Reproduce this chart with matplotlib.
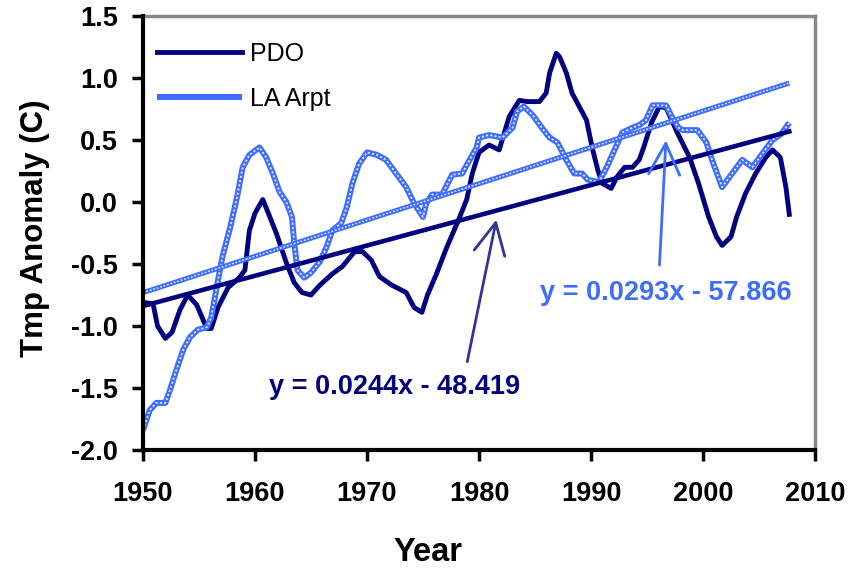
import numpy as np
import matplotlib.pyplot as plt

plt.rcParams['font.family'] = ['Liberation Sans', 'DejaVu Sans']

# PDO index (smoothed)
pdo_years = [1950.0, 1950.9, 1951.3, 1952.0, 1952.6, 1953.3, 1954.0, 1954.8, 1955.7, 1956.1,
             1956.7, 1957.6, 1958.6, 1959.1, 1959.5, 1960.0, 1960.7, 1961.1, 1961.9, 1962.8,
             1963.5, 1964.2, 1965.0, 1965.8, 1966.9, 1967.8, 1968.9, 1969.6, 1970.4, 1971.1,
             1972.2, 1973.5, 1974.2, 1974.9, 1975.4, 1976.2, 1977.1, 1978.1, 1978.9, 1979.4,
             1980.0, 1980.9, 1981.8, 1982.7, 1983.6, 1984.3, 1985.4, 1986.0, 1986.3, 1986.9,
             1987.2, 1987.8, 1988.3, 1989.6, 1990.1, 1990.6, 1991.0, 1991.8, 1992.3, 1993.0,
             1993.7, 1994.3, 1994.7, 1995.4, 1996.1, 1996.7, 1997.7, 1998.8, 1999.6, 2000.5,
             2001.2, 2001.7, 2002.5, 2003.0, 2003.8, 2004.7, 2005.6, 2006.2, 2006.9, 2007.4,
             2007.7]
pdo_vals = [-0.81, -0.82, -1.00, -1.10, -1.05, -0.87, -0.75, -0.83, -1.02, -1.02,
            -0.85, -0.69, -0.61, -0.55, -0.23, -0.09, 0.02, -0.07, -0.25, -0.49,
            -0.65, -0.73, -0.75, -0.67, -0.58, -0.52, -0.40, -0.40, -0.47, -0.60,
            -0.67, -0.73, -0.85, -0.89, -0.75, -0.58, -0.37, -0.16, 0.02, 0.23,
            0.40, 0.46, 0.42, 0.69, 0.82, 0.81, 0.81, 0.88, 1.04, 1.20,
            1.17, 1.04, 0.88, 0.66, 0.44, 0.26, 0.15, 0.11, 0.20, 0.28,
            0.28, 0.34, 0.44, 0.64, 0.77, 0.76, 0.56, 0.36, 0.15, -0.12,
            -0.28, -0.35, -0.28, -0.12, 0.07, 0.23, 0.36, 0.42, 0.36, 0.12,
            -0.10]

# LA airport temperature anomaly (smoothed)
la_years = [1950.0, 1950.6, 1951.2, 1952.0, 1952.4, 1953.0, 1953.6, 1954.2, 1954.9, 1955.7,
            1956.1, 1956.7, 1957.1, 1957.8, 1958.4, 1958.9, 1959.5, 1960.4, 1961.0, 1961.6,
            1962.2, 1962.8, 1963.3, 1963.5, 1963.8, 1964.4, 1965.0, 1965.8, 1966.4, 1966.9,
            1967.7, 1968.2, 1968.7, 1969.3, 1970.0, 1970.9, 1971.7, 1972.6, 1973.5, 1974.2,
            1975.0, 1975.3, 1975.8, 1976.7, 1977.6, 1978.5, 1979.1, 1979.8, 1980.0, 1980.9,
            1982.1, 1983.0, 1983.4, 1984.0, 1984.8, 1985.6, 1986.3, 1987.0, 1987.8, 1988.5,
            1989.2, 1989.7, 1990.7, 1991.4, 1992.2, 1992.8, 1993.7, 1994.3, 1994.9, 1995.5,
            1996.7, 1997.2, 1997.8, 1998.2, 1999.5, 2000.3, 2000.8, 2001.7, 2002.6, 2003.5,
            2004.4, 2005.3, 2006.2, 2007.0, 2007.7]
la_vals = [-1.84, -1.68, -1.62, -1.62, -1.52, -1.35, -1.19, -1.09, -1.03, -1.01,
           -0.93, -0.63, -0.44, -0.20, 0.04, 0.28, 0.38, 0.44, 0.36, 0.23,
           0.08, 0.00, -0.12, -0.33, -0.55, -0.61, -0.57, -0.48, -0.36, -0.23,
           -0.17, -0.04, 0.15, 0.31, 0.40, 0.38, 0.34, 0.23, 0.12, -0.01,
           -0.12, -0.01, 0.06, 0.06, 0.22, 0.23, 0.33, 0.44, 0.52, 0.54,
           0.52, 0.60, 0.73, 0.77, 0.70, 0.60, 0.52, 0.48, 0.34, 0.23,
           0.23, 0.18, 0.16, 0.28, 0.44, 0.56, 0.60, 0.62, 0.66, 0.78,
           0.78, 0.69, 0.60, 0.58, 0.58, 0.48, 0.34, 0.12, 0.23, 0.34,
           0.28, 0.39, 0.50, 0.55, 0.64]

# linear trends
pdo_slope, pdo_icpt = 0.0244, -48.419
la_slope, la_icpt = 0.0293, -57.866

navy = '#000080'
blue = '#3d6cff'

fig = plt.figure(figsize=(8.49, 5.73), dpi=100)
ax = fig.add_axes([0.1684, 0.2147, 0.7916, 0.7573])

def dotted_line(x, y, lw, label=None):
    # blue line with a white dotted core
    ax.plot(x, y, color=blue, lw=lw, solid_capstyle='butt', label=label)
    ax.plot(x, y, color='white', lw=lw * 0.3, ls=(0, (1.2, 1.2)), alpha=0.85)

ax.plot(pdo_years, pdo_vals, color=navy, lw=3.5, label='PDO')
dotted_line(la_years, la_vals, 4.3, label='LA Arpt')

tx = np.array([pdo_years[0], pdo_years[-1]])
ax.plot(tx, pdo_slope * tx + pdo_icpt, color=navy, lw=3.3)
tx = np.array([la_years[0], la_years[-1]])
dotted_line(tx, la_slope * tx + la_icpt, 3.6)

# equation labels with arrows
head = '->, head_length=0.8, head_width=0.4'
ax.annotate('', xy=(1981.6, -0.12), xytext=(1978.9, -1.31),
            arrowprops=dict(arrowstyle=head, color='#333399', lw=2.0, mutation_scale=28))
ax.text(1972.5, -1.49, 'y = 0.0244x - 48.419', color=navy, fontsize=19.5,
        fontweight='bold', ha='center', va='center')
ax.annotate('', xy=(1996.7, 0.52), xytext=(1996.1, -0.53),
            arrowprops=dict(arrowstyle=head, color=blue, lw=2.0, mutation_scale=28))
ax.text(1996.7, -0.73, 'y = 0.0293x - 57.866', color=blue, fontsize=19.5,
        fontweight='bold', ha='center', va='center')

ax.set_xlim(1950, 2010)
ax.set_ylim(-2.0, 1.5)
ax.set_xticks(np.arange(1950, 2011, 10))
ax.set_yticks(np.arange(-2.0, 1.51, 0.5))
ax.set_yticklabels([f'{v:.1f}' for v in np.arange(-2.0, 1.51, 0.5)])
for lbl in ax.get_xticklabels() + ax.get_yticklabels():
    lbl.set_fontweight('bold')
ax.tick_params(axis='both', labelsize=19.5, width=2.5, length=8, color='black')
ax.tick_params(axis='x', pad=14)
ax.tick_params(axis='y', pad=10)

for s in ['left', 'bottom']:
    ax.spines[s].set_linewidth(3)
    ax.spines[s].set_color('black')
for s in ['top', 'right']:
    ax.spines[s].set_linewidth(2.5)
    ax.spines[s].set_color('#888888')
ax.spines['left'].set_zorder(5)
ax.spines['bottom'].set_zorder(5)

ax.set_xlabel('Year', fontsize=23.5, fontweight='bold')
ax.set_ylabel('Tmp Anomaly (C)', fontsize=22.5, fontweight='bold')
ax.xaxis.set_label_coords(0.424, -0.2)
ax.yaxis.set_label_coords(-0.138, 0.51)

leg = ax.legend(loc='upper left', frameon=False, fontsize=18, handlelength=3.4,
                handletextpad=0.3, labelspacing=0.85,
                bbox_to_anchor=(-0.012, 0.993))

fig.savefig('out.png', dpi=100)
